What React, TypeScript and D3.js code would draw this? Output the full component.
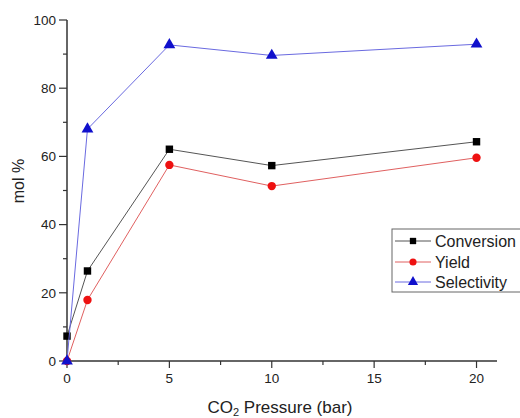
import * as d3 from "d3";
import React from "react";

// CO2 pressure (bar)
const pressure = [0, 1, 5, 10, 20];
const conversion = [7.3, 26.4, 62.1, 57.3, 64.3];
const yieldVals = [0, 17.9, 57.5, 51.3, 59.6];
const selectivity = [0, 68.0, 92.7, 89.6, 92.9];

const xTicks = [0, 5, 10, 15, 20];
const yTicks = [0, 20, 40, 60, 80, 100];

const series = [
  { name: "Conversion", values: conversion, line: "#555555", fill: "#000000", shape: "square" },
  { name: "Yield", values: yieldVals, line: "#e06060", fill: "#ee1111", shape: "circle" },
  { name: "Selectivity", values: selectivity, line: "#6a6ae0", fill: "#1010cc", shape: "triangle" },
];

const App = () => {
  const width = 520;
  const height = 418;
  const left = 67;
  const top = 20;
  const right = 497;
  const bottom = 361;

  const xScale = d3.scaleLinear().domain([0, 21]).range([left, right]);
  const yScale = d3.scaleLinear().domain([0, 100]).range([bottom, top]);

  const lineBuilder = d3
    .line<number>()
    .x((d, i) => xScale(pressure[i]))
    .y((d) => yScale(d));

  const symbolFor = (shape: string, size: number) => {
    const type =
      shape === "square" ? d3.symbolSquare : shape === "circle" ? d3.symbolCircle : d3.symbolTriangle;
    return d3.symbol().type(type).size(size)() as string;
  };

  const font = "'Liberation Sans', Arial, sans-serif";
  const axisColor = "#333";

  const xMinor = d3.range(0, 21, 2.5).filter((v) => !xTicks.includes(v));
  const yMinor = d3.range(10, 100, 20);

  const legendRows = [241, 262, 282];

  return (
    <svg
      width={width}
      height={height}
      style={{ position: "absolute", left: 0, top: 0, background: "#fff" }}
      fontFamily={font}
    >
      {/* axes */}
      <line x1={left} x2={left} y1={top} y2={bottom} stroke={axisColor} strokeWidth={1.5} />
      <line x1={left} x2={right} y1={bottom} y2={bottom} stroke={axisColor} strokeWidth={1.5} />
      {yTicks.map((t) => (
        <g key={"y" + t}>
          <line x1={left - 8} x2={left} y1={yScale(t)} y2={yScale(t)} stroke={axisColor} strokeWidth={1.2} />
          <text x={left - 11} y={yScale(t)} dy="0.35em" textAnchor="end" fontSize={13.5} fill="#222">
            {t}
          </text>
        </g>
      ))}
      {yMinor.map((t) => (
        <line key={"ym" + t} x1={left - 4} x2={left} y1={yScale(t)} y2={yScale(t)} stroke={axisColor} strokeWidth={1.2} />
      ))}
      {xTicks.map((t) => (
        <g key={"x" + t}>
          <line x1={xScale(t)} x2={xScale(t)} y1={bottom} y2={bottom + 7} stroke={axisColor} strokeWidth={1.2} />
          <text x={xScale(t)} y={bottom + 22} textAnchor="middle" fontSize={13.5} fill="#222">
            {t}
          </text>
        </g>
      ))}
      {xMinor.map((t) => (
        <line key={"xm" + t} x1={xScale(t)} x2={xScale(t)} y1={bottom} y2={bottom + 4} stroke={axisColor} strokeWidth={1.2} />
      ))}

      {/* axis labels */}
      <text
        transform={`translate(24,181) rotate(-90)`}
        textAnchor="middle"
        fontSize={16}
        fill="#222"
      >
        mol %
      </text>
      <text x={280} y={413} textAnchor="middle" fontSize={17} fill="#222">
        CO<tspan fontSize={11} dy={3}>2</tspan>
        <tspan dy={-3}> Pressure (bar)</tspan>
      </text>

      {/* series */}
      {series.map((s) => (
        <g key={s.name}>
          <path d={lineBuilder(s.values) as string} fill="none" stroke={s.line} strokeWidth={1} />
          {s.values.map((v, i) => (
            <path
              key={i}
              d={symbolFor(s.shape, s.shape === "triangle" ? 60 : 55)}
              transform={`translate(${xScale(pressure[i])},${yScale(v)})`}
              fill={s.fill}
            />
          ))}
        </g>
      ))}

      {/* legend */}
      <rect x={392} y={229} width={140} height={63} fill="#fff" stroke="#666" strokeWidth={1} />
      {series.map((s, i) => (
        <g key={"lg" + s.name}>
          <line x1={395} x2={431} y1={legendRows[i]} y2={legendRows[i]} stroke={s.line} strokeWidth={1} />
          <path
            d={symbolFor(s.shape, s.shape === "triangle" ? 45 : 40)}
            transform={`translate(413,${legendRows[i]})`}
            fill={s.fill}
          />
          <text x={435} y={legendRows[i]} dy="0.35em" fontSize={16} fill="#222">
            {s.name}
          </text>
        </g>
      ))}
    </svg>
  );
};

export default App;
